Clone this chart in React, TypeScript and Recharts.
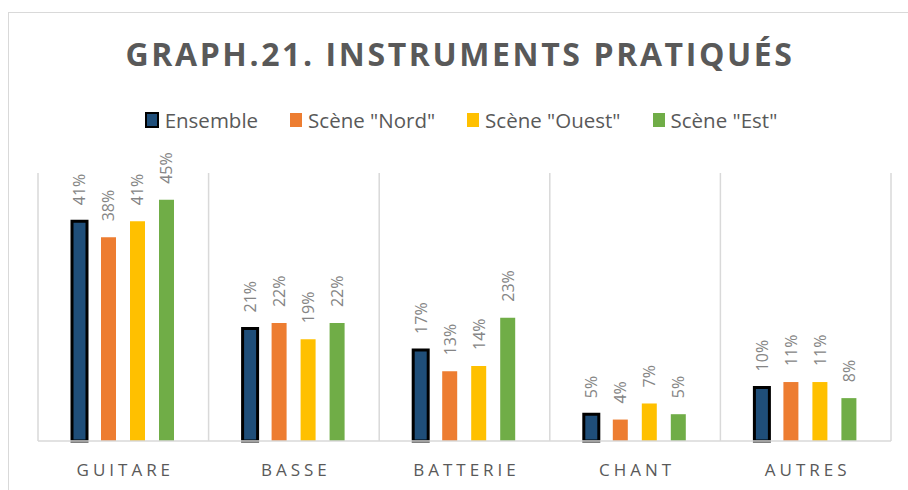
import React from "react";
import { BarChart, Bar, XAxis, YAxis, CartesianGrid, Legend, LabelList } from "recharts";

const categories = ["GUITARE", "BASSE", "BATTERIE", "CHANT", "AUTRES"];
const ensemble = [41, 21, 17, 5, 10];
const nord = [38, 22, 13, 4, 11];
const ouest = [41, 19, 14, 7, 11];
const est = [45, 22, 23, 5, 8];

const series = [
  { key: "ensemble", name: "Ensemble", color: "#1f4e79", stroke: "#000" },
  { key: "nord", name: 'Scène "Nord"', color: "#ed7d31", stroke: "none" },
  { key: "ouest", name: 'Scène "Ouest"', color: "#ffc000", stroke: "none" },
  { key: "est", name: 'Scène "Est"', color: "#70ad47", stroke: "none" },
];

const data = categories.map((c, i) => ({
  cat: c,
  ensemble: ensemble[i],
  nord: nord[i],
  ouest: ouest[i],
  est: est[i],
}));

const FONT = "'Open Sans', 'DejaVu Sans', sans-serif";

const ValueLabel = (props: any) => {
  const { x, y, width, value } = props;
  const cx = x + width / 2;
  const cy = y - 16;
  return (
    <text
      x={cx}
      y={cy}
      transform={`rotate(-90 ${cx} ${cy})`}
      textAnchor="start"
      dominantBaseline="central"
      fontSize={16}
      fill="#858585"
      fontFamily={FONT}
    >
      {`${value}%`}
    </text>
  );
};

const CatTick = ({ x, y, payload }: any) => (
  <text
    x={x + 2}
    y={y + 27}
    textAnchor="middle"
    fontSize={17}
    fill="#595959"
    fontFamily={FONT}
    letterSpacing={4}
  >
    {payload.value}
  </text>
);

const LegendContent = () => (
  <div style={{ display: "flex", justifyContent: "center", fontFamily: FONT, fontSize: 20.5, color: "#595959", paddingLeft: 46 }}>
    {series.map((s) => (
      <div key={s.key} style={{ display: "flex", alignItems: "center", marginRight: 32 }}>
        <span
          style={{
            display: "inline-block",
            width: s.key === "ensemble" ? 10 : 12,
            height: s.key === "ensemble" ? 12 : 14,
            background: s.color,
            border: s.key === "ensemble" ? "2px solid #000" : "none",
            marginRight: 6,
          }}
        />
        <span>{s.name}</span>
      </div>
    ))}
  </div>
);

export default function App() {
  return (
    <div style={{ position: "fixed", left: 0, top: 0, width: 908, height: 490, background: "#fff", overflow: "hidden" }}>
      <div
        style={{
          position: "absolute",
          left: 8,
          top: 12,
          width: 940,
          height: 520,
          border: "1.5px solid #d9d9d9",
        }}
      />
      <div
        style={{
          position: "absolute",
          left: 6,
          top: 32,
          width: 908,
          textAlign: "center",
          fontFamily: FONT,
          fontWeight: 700,
          fontSize: 32,
          letterSpacing: 2.6,
          color: "#595959",
        }}
      >
        GRAPH.21. INSTRUMENTS PRATIQUÉS
      </div>
      <div style={{ position: "absolute", left: 0, top: 0 }}>
        <BarChart
          width={908}
          height={490}
          data={data}
          margin={{ top: 173, right: 17, bottom: 19, left: 38 }}
          barSize={15}
          barGap={14}
        >
          <CartesianGrid
            horizontal={false}
            stroke="#d9d9d9"
            strokeWidth={1.5}
            verticalCoordinatesGenerator={({ offset }: any) =>
              [0, 1, 2, 3, 4, 5].map((i) => offset.left + (i * offset.width) / 5)
            }
          />
          <XAxis
            dataKey="cat"
            axisLine={{ stroke: "#d9d9d9", strokeWidth: 1.5 }}
            tickLine={false}
            tick={<CatTick />}
            interval={0}
          />
          <YAxis hide domain={[0, 50]} />
          <Legend
            verticalAlign="middle"
            align="center"
            content={<LegendContent />}
            wrapperStyle={{ top: 106, left: 0, width: 908 }}
          />
          {series.map((s) => (
            <Bar
              key={s.key}
              dataKey={s.key}
              name={s.name}
              fill={s.color}
              stroke={s.stroke}
              strokeWidth={s.key === "ensemble" ? 3 : 0}
              isAnimationActive={false}
            >
              <LabelList dataKey={s.key} content={<ValueLabel />} />
            </Bar>
          ))}
        </BarChart>
      </div>
    </div>
  );
}
